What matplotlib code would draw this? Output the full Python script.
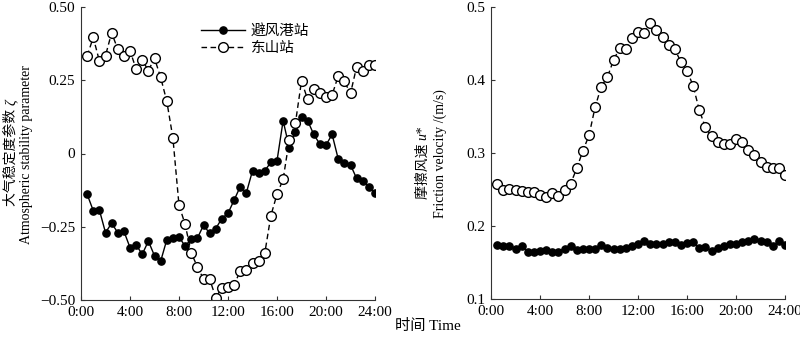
import numpy as np
import matplotlib.pyplot as plt

plt.rcParams['font.family'] = ['Liberation Serif', 'Noto Sans CJK SC']

# half-hourly, 0:30 .. 24:00
hours = np.arange(1, 49) * 0.5

# stability parameter zeta
zeta_bfg = [-0.139, -0.195, -0.193, -0.270, -0.238, -0.270, -0.265, -0.321,
            -0.312, -0.344, -0.299, -0.349, -0.368, -0.295, -0.288, -0.285,
            -0.316, -0.292, -0.289, -0.245, -0.272, -0.256, -0.222, -0.204,
            -0.159, -0.113, -0.134, -0.059, -0.068, -0.059, -0.030, -0.025,
            0.112, 0.020, 0.072, 0.124, 0.112, 0.065, 0.032, 0.029,
            0.065, -0.019, -0.031, -0.039, -0.085, -0.094, -0.113, -0.136]
zeta_ds = [0.333, 0.396, 0.316, 0.334, 0.412, 0.356, 0.333, 0.351,
           0.288, 0.319, 0.283, 0.325, 0.260, 0.179, 0.054, -0.176,
           -0.242, -0.339, -0.387, -0.428, -0.428, -0.492, -0.458, -0.456,
           -0.448, -0.401, -0.397, -0.373, -0.368, -0.341, -0.212, -0.139,
           -0.088, 0.046, 0.103, 0.247, 0.185, 0.219, 0.205, 0.194,
           0.200, 0.265, 0.246, 0.205, 0.296, 0.282, 0.302, 0.302]

# friction velocity u* (m/s)
ustar_bfg = [0.174, 0.173, 0.173, 0.168, 0.173, 0.165, 0.164, 0.166,
             0.167, 0.164, 0.165, 0.169, 0.173, 0.167, 0.169, 0.169,
             0.168, 0.174, 0.170, 0.168, 0.168, 0.170, 0.172, 0.175,
             0.179, 0.176, 0.175, 0.176, 0.178, 0.178, 0.174, 0.177,
             0.178, 0.170, 0.171, 0.166, 0.170, 0.172, 0.175, 0.176,
             0.178, 0.179, 0.182, 0.179, 0.178, 0.173, 0.179, 0.174]
ustar_ds = [0.257, 0.249, 0.251, 0.249, 0.248, 0.246, 0.246, 0.243,
            0.240, 0.245, 0.241, 0.250, 0.258, 0.279, 0.303, 0.324,
            0.363, 0.391, 0.404, 0.427, 0.444, 0.443, 0.458, 0.466,
            0.465, 0.478, 0.468, 0.459, 0.448, 0.442, 0.425, 0.413,
            0.392, 0.359, 0.335, 0.323, 0.315, 0.312, 0.313, 0.319,
            0.315, 0.304, 0.297, 0.288, 0.281, 0.279, 0.279, 0.270]

xticks = [0, 4, 8, 12, 16, 20, 24]
xticklabels = ['0:00', '4:00', '8:00', '12:00', '16:00', '20:00', '24:00']

fig = plt.figure(figsize=(8, 3.41), dpi=100)
W, H = 800, 341
ax1 = fig.add_axes([81 / W, 1 - 300 / H, 294 / W, 293 / H])
ax2 = fig.add_axes([491 / W, 1 - 299 / H, 294 / W, 292 / H])


def style_axes(ax):
    for s in ['top', 'right']:
        ax.spines[s].set_visible(False)
    for s in ['left', 'bottom']:
        ax.spines[s].set_linewidth(0.8)
        ax.spines[s].set_color('#333333')
    ax.tick_params(direction='in', length=3, width=0.8, color='#333333',
                   labelsize=11, pad=4)
    ax.set_xlim(0, 24)
    ax.set_xticks(xticks)
    ax.set_xticklabels(xticklabels)


def draw_series(ax, y_fill, y_open):
    ax.plot(hours, y_fill, '-', color='black', lw=1.0, marker='o', ms=5.2,
            mfc='black', mec='black', label='避风港站')
    ax.plot(hours, y_open, '--', color='black', lw=1.0, marker='o', ms=7,
            mfc='white', mec='black', mew=1.0, dashes=(4, 2.5), label='东山站')


draw_series(ax1, zeta_bfg, zeta_ds)
style_axes(ax1)
ax1.set_ylim(-0.5, 0.5)
ax1.set_yticks([-0.5, -0.25, 0, 0.25, 0.5])
ax1.set_yticklabels(['\u22120.50', '\u22120.25', '0', '0.25', '0.50'])
ax1.legend(loc='upper left', bbox_to_anchor=(0.39, 0.96), frameon=False,
           fontsize=10.5, handlelength=3.0, handletextpad=0.4, labelspacing=0.25,
           borderaxespad=0)

draw_series(ax2, ustar_bfg, ustar_ds)
style_axes(ax2)
ax2.set_ylim(0.1, 0.5)
ax2.set_yticks([0.1, 0.2, 0.3, 0.4, 0.5])
ax2.set_yticklabels(['0.1', '0.2', '0.3', '0.4', '0.5'])


def rotated_label(x, y_bottom, main, italic):
    # vertical text reading bottom-to-top, italic symbol appended on top
    t = fig.text(x / W, 1 - y_bottom / H, main, rotation=90, ha='center',
                 va='bottom', fontsize=10)
    fig.canvas.draw()
    bb = t.get_window_extent()
    fig.text(x / W, bb.y1 / H, italic, rotation=90, ha='center', va='bottom',
             fontsize=10, style='italic')


rotated_label(11, 206, '大气稳定度参数 ', 'ζ')
fig.text(27 / W, 1 - 155 / H, 'Atmospheric stability parameter', rotation=90,
         ha='center', va='center', fontsize=10)
rotated_label(423, 199, '摩擦风速 ', 'u*')
fig.text(440 / W, 1 - 154 / H, 'Friction velocity /(m/s)', rotation=90,
         ha='center', va='center', fontsize=10)

fig.text(428 / W, 1 - 326 / H, '时间 Time', ha='center', va='center',
         fontsize=11)

fig.savefig('out.png', dpi=100)
